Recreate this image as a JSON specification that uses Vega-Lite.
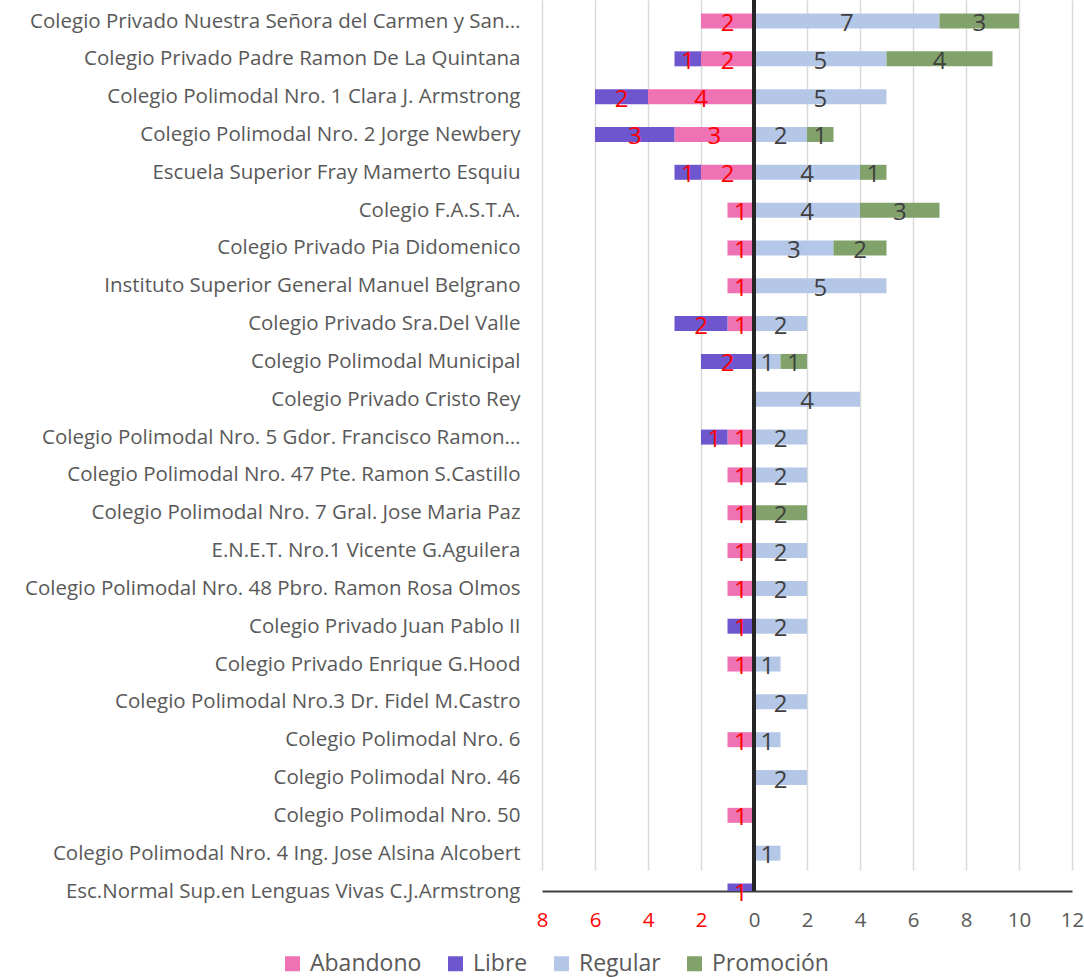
{
  "$schema": "https://vega.github.io/schema/vega-lite/v6.json",
  "width": 530,
  "height": 891,
  "autosize": "none",
  "padding": {"left": 542, "top": 0, "right": 12, "bottom": 86},
  "config": {"view": {"stroke": null}, "font": "Open Sans"},
  "data": {"values": [
    {"e": "Colegio Privado Nuestra Señora del Carmen y San…", "s": "Abandono", "n": 2},
    {"e": "Colegio Privado Nuestra Señora del Carmen y San…", "s": "Regular", "n": 7},
    {"e": "Colegio Privado Nuestra Señora del Carmen y San…", "s": "Promoción", "n": 3},
    {"e": "Colegio Privado Padre Ramon De La Quintana", "s": "Abandono", "n": 2},
    {"e": "Colegio Privado Padre Ramon De La Quintana", "s": "Libre", "n": 1},
    {"e": "Colegio Privado Padre Ramon De La Quintana", "s": "Regular", "n": 5},
    {"e": "Colegio Privado Padre Ramon De La Quintana", "s": "Promoción", "n": 4},
    {"e": "Colegio Polimodal Nro. 1 Clara J. Armstrong", "s": "Abandono", "n": 4},
    {"e": "Colegio Polimodal Nro. 1 Clara J. Armstrong", "s": "Libre", "n": 2},
    {"e": "Colegio Polimodal Nro. 1 Clara J. Armstrong", "s": "Regular", "n": 5},
    {"e": "Colegio Polimodal Nro. 2 Jorge Newbery", "s": "Abandono", "n": 3},
    {"e": "Colegio Polimodal Nro. 2 Jorge Newbery", "s": "Libre", "n": 3},
    {"e": "Colegio Polimodal Nro. 2 Jorge Newbery", "s": "Regular", "n": 2},
    {"e": "Colegio Polimodal Nro. 2 Jorge Newbery", "s": "Promoción", "n": 1},
    {"e": "Escuela Superior Fray Mamerto Esquiu", "s": "Abandono", "n": 2},
    {"e": "Escuela Superior Fray Mamerto Esquiu", "s": "Libre", "n": 1},
    {"e": "Escuela Superior Fray Mamerto Esquiu", "s": "Regular", "n": 4},
    {"e": "Escuela Superior Fray Mamerto Esquiu", "s": "Promoción", "n": 1},
    {"e": "Colegio F.A.S.T.A.", "s": "Abandono", "n": 1},
    {"e": "Colegio F.A.S.T.A.", "s": "Regular", "n": 4},
    {"e": "Colegio F.A.S.T.A.", "s": "Promoción", "n": 3},
    {"e": "Colegio Privado Pia Didomenico", "s": "Abandono", "n": 1},
    {"e": "Colegio Privado Pia Didomenico", "s": "Regular", "n": 3},
    {"e": "Colegio Privado Pia Didomenico", "s": "Promoción", "n": 2},
    {"e": "Instituto Superior General Manuel Belgrano", "s": "Abandono", "n": 1},
    {"e": "Instituto Superior General Manuel Belgrano", "s": "Regular", "n": 5},
    {"e": "Colegio Privado Sra.Del Valle", "s": "Abandono", "n": 1},
    {"e": "Colegio Privado Sra.Del Valle", "s": "Libre", "n": 2},
    {"e": "Colegio Privado Sra.Del Valle", "s": "Regular", "n": 2},
    {"e": "Colegio Polimodal Municipal", "s": "Libre", "n": 2},
    {"e": "Colegio Polimodal Municipal", "s": "Regular", "n": 1},
    {"e": "Colegio Polimodal Municipal", "s": "Promoción", "n": 1},
    {"e": "Colegio Privado Cristo Rey", "s": "Regular", "n": 4},
    {"e": "Colegio Polimodal Nro. 5 Gdor. Francisco Ramon…", "s": "Abandono", "n": 1},
    {"e": "Colegio Polimodal Nro. 5 Gdor. Francisco Ramon…", "s": "Libre", "n": 1},
    {"e": "Colegio Polimodal Nro. 5 Gdor. Francisco Ramon…", "s": "Regular", "n": 2},
    {"e": "Colegio Polimodal Nro. 47 Pte. Ramon S.Castillo", "s": "Abandono", "n": 1},
    {"e": "Colegio Polimodal Nro. 47 Pte. Ramon S.Castillo", "s": "Regular", "n": 2},
    {"e": "Colegio Polimodal Nro. 7 Gral. Jose Maria Paz", "s": "Abandono", "n": 1},
    {"e": "Colegio Polimodal Nro. 7 Gral. Jose Maria Paz", "s": "Promoción", "n": 2},
    {"e": "E.N.E.T. Nro.1 Vicente G.Aguilera", "s": "Abandono", "n": 1},
    {"e": "E.N.E.T. Nro.1 Vicente G.Aguilera", "s": "Regular", "n": 2},
    {"e": "Colegio Polimodal Nro. 48 Pbro. Ramon Rosa Olmos", "s": "Abandono", "n": 1},
    {"e": "Colegio Polimodal Nro. 48 Pbro. Ramon Rosa Olmos", "s": "Regular", "n": 2},
    {"e": "Colegio Privado Juan Pablo II", "s": "Libre", "n": 1},
    {"e": "Colegio Privado Juan Pablo II", "s": "Regular", "n": 2},
    {"e": "Colegio Privado Enrique G.Hood", "s": "Abandono", "n": 1},
    {"e": "Colegio Privado Enrique G.Hood", "s": "Regular", "n": 1},
    {"e": "Colegio Polimodal Nro.3 Dr. Fidel M.Castro", "s": "Regular", "n": 2},
    {"e": "Colegio Polimodal Nro. 6", "s": "Abandono", "n": 1},
    {"e": "Colegio Polimodal Nro. 6", "s": "Regular", "n": 1},
    {"e": "Colegio Polimodal Nro. 46", "s": "Regular", "n": 2},
    {"e": "Colegio Polimodal Nro. 50", "s": "Abandono", "n": 1},
    {"e": "Colegio Polimodal Nro. 4 Ing. Jose Alsina Alcobert", "s": "Regular", "n": 1},
    {"e": "Esc.Normal Sup.en Lenguas Vivas C.J.Armstrong", "s": "Libre", "n": 1}
  ]},
  "transform": [
    {"calculate": "indexof(['Abandono','Libre','Regular','Promoción'], datum.s)", "as": "o"},
    {"calculate": "datum.o < 2 ? -datum.n : datum.n", "as": "v"},
    {"stack": "v", "groupby": ["e"], "sort": [{"field": "o", "order": "ascending"}], "as": ["v0", "v1"], "offset": "zero"},
    {"calculate": "(datum.v0 + datum.v1) / 2", "as": "mid"}
  ],
  "layer": [
    {
      "mark": {"type": "bar", "size": 15, "clip": true},
      "encoding": {
        "y": {
          "field": "e", "type": "nominal",
          "scale": {"type": "point", "range": [21, 891], "padding": 0, "domain": [
            "Colegio Privado Nuestra Señora del Carmen y San…",
            "Colegio Privado Padre Ramon De La Quintana",
            "Colegio Polimodal Nro. 1 Clara J. Armstrong",
            "Colegio Polimodal Nro. 2 Jorge Newbery",
            "Escuela Superior Fray Mamerto Esquiu",
            "Colegio F.A.S.T.A.",
            "Colegio Privado Pia Didomenico",
            "Instituto Superior General Manuel Belgrano",
            "Colegio Privado Sra.Del Valle",
            "Colegio Polimodal Municipal",
            "Colegio Privado Cristo Rey",
            "Colegio Polimodal Nro. 5 Gdor. Francisco Ramon…",
            "Colegio Polimodal Nro. 47 Pte. Ramon S.Castillo",
            "Colegio Polimodal Nro. 7 Gral. Jose Maria Paz",
            "E.N.E.T. Nro.1 Vicente G.Aguilera",
            "Colegio Polimodal Nro. 48 Pbro. Ramon Rosa Olmos",
            "Colegio Privado Juan Pablo II",
            "Colegio Privado Enrique G.Hood",
            "Colegio Polimodal Nro.3 Dr. Fidel M.Castro",
            "Colegio Polimodal Nro. 6",
            "Colegio Polimodal Nro. 46",
            "Colegio Polimodal Nro. 50",
            "Colegio Polimodal Nro. 4 Ing. Jose Alsina Alcobert",
            "Esc.Normal Sup.en Lenguas Vivas C.J.Armstrong"
          ]},
          "axis": {"title": null, "domain": false, "ticks": false, "grid": false, "labelPadding": 22, "labelFontSize": 20.5, "labelColor": "#595959", "labelFont": "Open Sans", "labelLimit": 600}
        },
        "x": {
          "field": "v0", "type": "quantitative",
          "scale": {"domain": [-8, 12], "nice": false, "zero": false},
          "axis": {
            "title": null,
            "values": [-8, -6, -4, -2, 0, 2, 4, 6, 8, 10, 12],
            "labelExpr": "abs(datum.value)",
            "labelColor": {"condition": {"test": "datum.value < 0", "value": "#FF0000"}, "value": "#595959"},
            "labelFontSize": 20.5, "labelFont": "Open Sans", "labelPadding": 19, "labelFlush": false, "labelOverlap": false,
            "ticks": false, "grid": true, "gridColor": "#D9D9D9", "gridWidth": 1.5,
            "domainColor": "#404040", "domainWidth": 2
          }
        },
        "x2": {"field": "v1"},
        "color": {
          "field": "s", "type": "nominal",
          "scale": {"domain": ["Abandono", "Libre", "Regular", "Promoción"], "range": ["#EF72B4", "#6E56CF", "#B4C7E7", "#81A36B"]},
          "legend": {"orient": "none", "direction": "horizontal", "legendX": -261, "legendY": 952, "title": null, "symbolType": "square", "symbolSize": 225, "symbolStrokeWidth": 0, "symbolOpacity": 1, "labelFontSize": 23, "labelColor": "#595959", "labelFont": "Open Sans", "columnPadding": 22, "labelOffset": 6}
        }
      }
    },
    {
      "mark": {"type": "rule", "color": "#262626", "strokeWidth": 2.5},
      "encoding": {"x": {"datum": 0, "type": "quantitative"}}
    },
    {
      "mark": {"type": "text", "fontSize": 24, "font": "Open Sans", "baseline": "middle", "align": "center", "dy": 3},
      "encoding": {
        "y": {"field": "e", "type": "nominal"},
        "x": {"field": "mid", "type": "quantitative"},
        "text": {"field": "n", "type": "quantitative"},
        "color": {"condition": {"test": "datum.v < 0", "value": "#FF0000"}, "value": "#404040"}
      }
    }
  ]
}
